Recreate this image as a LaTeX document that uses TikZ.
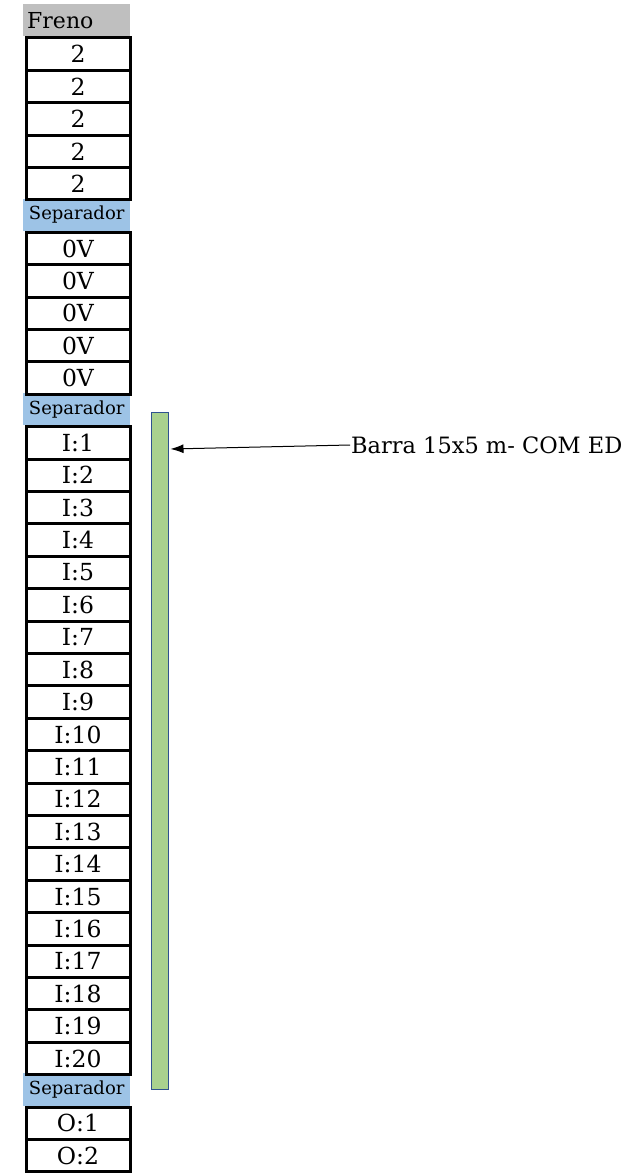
\documentclass[tikz,border=0pt]{standalone}
\usepackage{fontspec}
\setmainfont{DejaVu Serif}
\usepackage{tikz}
\usetikzlibrary{positioning, arrows.meta}
\definecolor{HeadGray}{RGB}{191,191,191}
\definecolor{SepBlue}{RGB}{157,195,230}
\definecolor{BarGreen}{RGB}{169,209,142}
\definecolor{BarBlue}{RGB}{47,82,143}

\begin{document}
\begin{tikzpicture}[x=1pt, y=-1pt,
    cellbox/.style={draw, line width=3pt, minimum width=104pt, minimum height=32.4pt,
      inner sep=0pt, anchor=north west, font=\fontsize{23.5}{23.5}\selectfont},
    sepbox/.style={fill=SepBlue, minimum width=107pt, minimum height=32.4pt,
      inner sep=0pt, anchor=north west, font=\fontsize{18}{18}\selectfont},
    headbox/.style={fill=HeadGray, minimum width=107pt, minimum height=32pt,
      text width=99pt, inner xsep=4pt, inner ysep=0pt, align=left, anchor=north west,
      font=\fontsize{22}{22}\selectfont},
    barbox/.style={draw=BarBlue, fill=BarGreen, line width=1.3pt, minimum width=17pt,
      minimum height=677pt, inner sep=0pt, anchor=north west}]
  \useasboundingbox (0,0) rectangle (641,1174);
  % header
  \node[headbox] (freno) at (23,4) {Freno};
  % separators
  \node[sepbox] (sep1) at (23,{4+32.4*6}) {Separador};
  \node[sepbox] (sep2) at (23,{4+32.4*12}) {Separador};
  \node[sepbox] (sep3) at (23,{4+32.4*33}) {Separador};
  % terminal cells
  \foreach \i in {1,...,5}
    \node[cellbox] (fr\i) at (24.5,{4+32.4*\i}) {2};
  \foreach \i in {1,...,5}
    \node[cellbox] (zv\i) at (24.5,{4+32.4*(6+\i)}) {0V};
  \foreach \i in {1,...,20}
    \node[cellbox] (in\i) at (24.5,{4+32.4*(12+\i)}) {I:\i};
  \foreach \i in {1,2}
    \node[cellbox] (out\i) at (24.5,{4+32.4*(33+\i)}) {O:\i};
  % bar and its label
  \node[barbox] (bar) at (150.5,412) {};
  \node[anchor=west, inner sep=1pt, font=\fontsize{22.5}{22.5}\selectfont] (barlabel) at (350,445)
    {Barra 15x5 m- COM ED};
  \coordinate (bartip) at (170.5,449);
  \draw[-{Latex[length=13pt,width=9pt]}, line width=1pt] (barlabel.west) -- (bartip);
\end{tikzpicture}
\end{document}
